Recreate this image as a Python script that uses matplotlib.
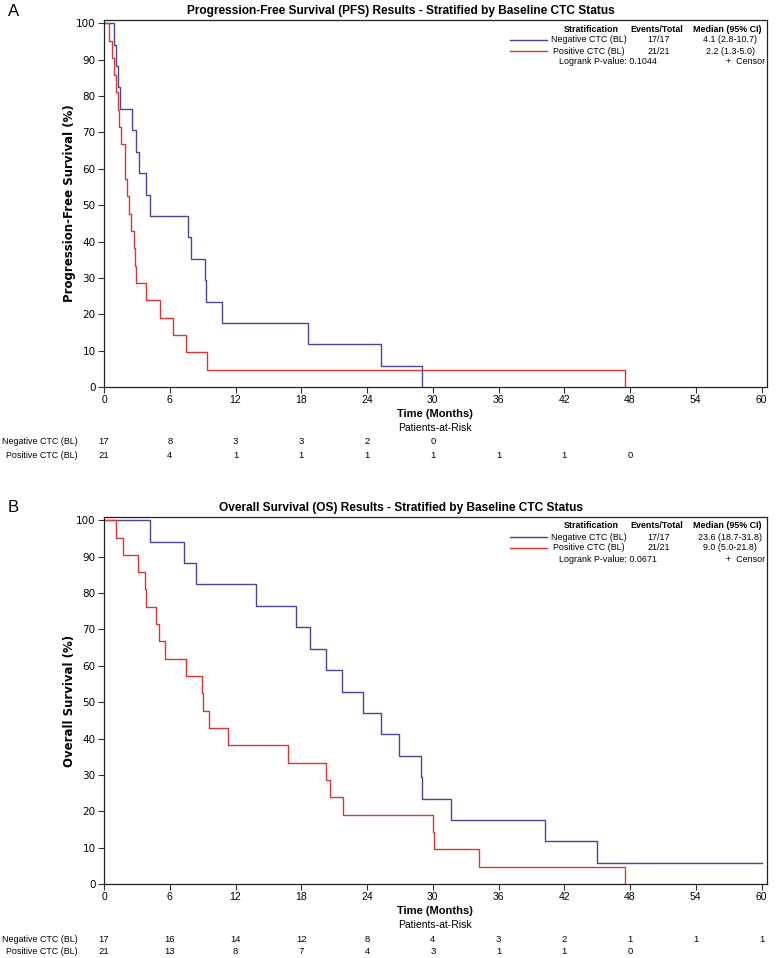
import matplotlib
matplotlib.use('Agg')
import matplotlib.pyplot as plt
import matplotlib.transforms as mtrans

narrow = ['Liberation Sans', 'DejaVu Sans']
plt.rcParams['font.family'] = ['DejaVu Sans']

# curves (months, % surviving)
pfs_neg_t = [0, 0.9, 1.1, 1.3, 1.5, 2.6, 2.9, 3.2, 3.8, 4.2, 7.7, 7.9, 9.2, 9.35, 10.8, 18.6, 25.3, 29.0]
pfs_neg_s = [100, 94.1, 88.2, 82.4, 76.5, 70.6, 64.7, 58.8, 52.9, 47.1, 41.2, 35.3, 29.4, 23.5, 17.6, 11.8, 5.9, 0]
pfs_pos_t = [0, 0.5, 0.7, 0.9, 1.1, 1.25, 1.4, 1.52, 1.9, 2.07, 2.25, 2.44, 2.7, 2.8, 2.95, 3.84, 5.1, 6.3, 7.46, 9.38, 47.5]
pfs_pos_s = [100, 95.2, 90.5, 85.7, 81.0, 76.2, 71.4, 66.7, 57.1, 52.4, 47.6, 42.9, 38.1, 33.3, 28.6, 23.8, 19.0, 14.3, 9.5, 4.8, 0]

os_neg_t = [0, 4.2, 7.3, 8.4, 13.9, 17.5, 18.8, 20.3, 21.7, 23.6, 25.3, 26.9, 28.9, 29.0, 31.7, 40.2, 45.0, 60.0]
os_neg_s = [100, 94.1, 88.2, 82.4, 76.5, 70.6, 64.7, 58.8, 52.9, 47.1, 41.2, 35.3, 29.4, 23.5, 17.6, 11.8, 5.9, 5.9]
os_pos_t = [0, 1.07, 1.7, 3.1, 3.7, 3.8, 4.7, 5.06, 5.6, 7.5, 8.9, 9.0, 9.6, 11.3, 16.8, 20.3, 20.6, 21.8, 30.0, 30.1, 34.2, 47.5]
os_pos_s = [100, 95.2, 90.5, 85.7, 81.0, 76.2, 71.4, 66.7, 61.9, 57.1, 52.4, 47.6, 42.9, 38.1, 33.3, 28.6, 23.8, 19.0, 14.3, 9.5, 4.8, 0]

risk_times = [0, 6, 12, 18, 24, 30, 36, 42, 48, 54, 60]
pfs_risk_neg = [17, 8, 3, 3, 2, 0]
pfs_risk_pos = [21, 4, 1, 1, 1, 1, 1, 1, 0]
os_risk_neg = [17, 16, 14, 12, 8, 4, 3, 2, 1, 1, 1]
os_risk_pos = [21, 13, 8, 7, 4, 3, 1, 1, 0]

groups = ['Negative CTC (BL)', 'Positive CTC (BL)']
pfs_events = ['17/17', '21/21']
pfs_median = ['4.1 (2.8-10.7)', '2.2 (1.3-5.0)']
os_events = ['17/17', '21/21']
os_median = ['23.6 (18.7-31.8)', '9.0 (5.0-21.8)']

BLUE = '#46469a'
RED = '#e03434'
W, H = 777, 958

fig = plt.figure(figsize=(W / 100, H / 100), dpi=100)


def fx(x):
    return x / W


def fy(y):
    return 1 - y / H


def panel(top, bottom, letter, title, ylabel, neg, pos, risk_neg, risk_pos,
          events, medians, pval):
    ax = fig.add_axes([fx(104), fy(bottom), fx(767) - fx(104), fy(top) - fy(bottom)])
    ax.step(neg[0], neg[1], where='post', color=BLUE, lw=1.0)
    ax.step(pos[0], pos[1], where='post', color=RED, lw=1.0)
    ax.set_xlim(0, 60.5)
    ax.set_ylim(0, 100.9)
    ax.set_xticks(risk_times)
    ax.set_yticks(range(0, 101, 10))
    ax.tick_params(direction='out', length=4, width=0.8, color='#333333')
    ax.tick_params(axis='x', pad=2)
    ax.tick_params(axis='y', pad=2)
    for lab in ax.get_xticklabels():
        lab.set_family(narrow)
        lab.set_fontsize(7.5)
    for lab in ax.get_yticklabels():
        lab.set_fontsize(7.5)
    for s in ax.spines.values():
        s.set_linewidth(0.9)
        s.set_color('#222222')
    ax.set_ylabel(ylabel, fontsize=8.5, fontweight='bold', labelpad=0)

    fig.text(fx(8), fy(top - 9), letter, fontsize=12, family=narrow, va='center')
    fig.text(fx(401), fy(top - 9), title, fontsize=8.6, fontweight='bold',
             family=narrow, ha='center', va='center')

    # legend block inside the plot
    fs = 6.4
    ly = [top + 9, top + 20, top + 31, top + 42]
    fig.text(fx(591), fy(ly[0]), 'Stratification', fontsize=fs, fontweight='bold', family=narrow, ha='center', va='center')
    fig.text(fx(657), fy(ly[0]), 'Events/Total', fontsize=fs, fontweight='bold', family=narrow, ha='center', va='center')
    fig.text(fx(727), fy(ly[0]), 'Median (95% CI)', fontsize=fs, fontweight='bold', family=narrow, ha='center', va='center')
    for i, c in enumerate([BLUE, RED]):
        fig.add_artist(plt.Line2D([fx(510), fx(547)], [fy(ly[i + 1]), fy(ly[i + 1])], color=c, lw=1.0))
        fig.text(fx(589), fy(ly[i + 1]), groups[i], fontsize=fs, family=narrow, ha='center', va='center')
        fig.text(fx(659), fy(ly[i + 1]), events[i], fontsize=fs, family=narrow, ha='center', va='center')
        fig.text(fx(730), fy(ly[i + 1]), medians[i], fontsize=fs, family=narrow, ha='center', va='center')
    fig.text(fx(559), fy(ly[3]), 'Logrank P-value: ' + pval, fontsize=fs, family=narrow, ha='left', va='center')
    fig.text(fx(765), fy(ly[3]), '+  Censor', fontsize=fs, family=narrow, ha='right', va='center')

    # x title and patients-at-risk table
    tr = mtrans.blended_transform_factory(ax.transData, fig.transFigure)
    fig.text(fx(435), fy(bottom + 27), 'Time (Months)', fontsize=8, fontweight='bold', family=narrow, ha='center', va='center')
    fig.text(fx(435), fy(bottom + 41), 'Patients-at-Risk', fontsize=7.5, family=narrow, ha='center', va='center')
    for row, (name, counts) in enumerate(zip(groups, [risk_neg, risk_pos])):
        yy = fy(bottom + 55 + row * 13)
        fig.text(fx(78), yy, name, fontsize=6.4, family=narrow, ha='right', va='center')
        for t, n in zip(risk_times, counts):
            ax.text(t, yy, str(n), transform=tr, fontsize=6.8, family=narrow, ha='center', va='center')
    return ax


panel(20, 387, 'A', 'Progression-Free Survival (PFS) Results - Stratified by Baseline CTC Status',
      'Progression-Free Survival (%)', (pfs_neg_t, pfs_neg_s), (pfs_pos_t, pfs_pos_s),
      pfs_risk_neg, pfs_risk_pos, pfs_events, pfs_median, '0.1044')
panel(517, 884, 'B', 'Overall Survival (OS) Results - Stratified by Baseline CTC Status',
      'Overall Survival (%)', (os_neg_t, os_neg_s), (os_pos_t, os_pos_s),
      os_risk_neg, os_risk_pos, os_events, os_median, '0.0671')

fig.savefig('out.png', dpi=100)
